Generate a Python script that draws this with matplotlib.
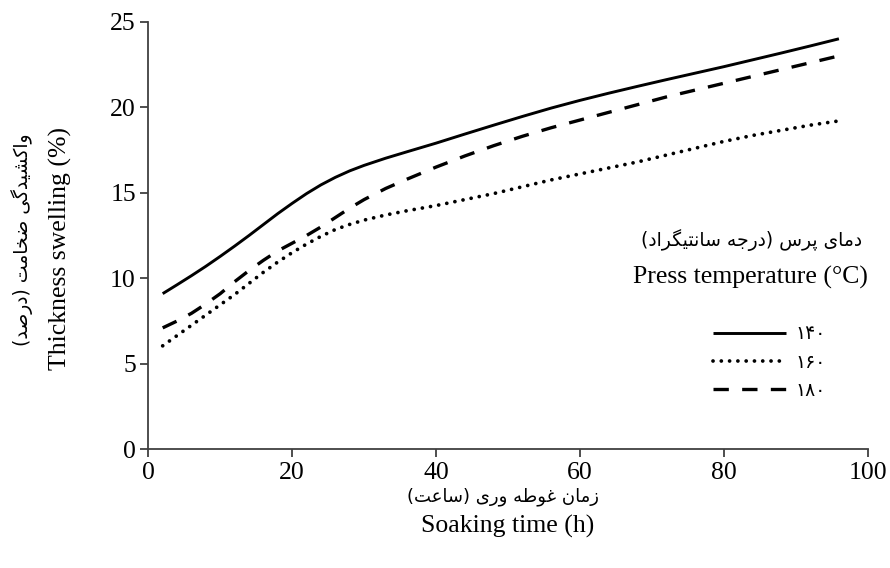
import matplotlib
matplotlib.use("Agg")
import matplotlib.pyplot as plt

# ---------------- data ----------------
soak_time = [2, 4, 6, 8, 10, 12, 14, 16, 18, 20, 22, 24, 26, 28, 30, 33, 36, 40,
             44, 48, 52, 56, 60, 64, 68, 72, 76, 80, 84, 88, 92, 96]
ts_140 = [9.1, 9.62, 10.15, 10.7, 11.28, 11.88, 12.5, 13.14, 13.78, 14.38, 14.95, 15.46,
          15.9, 16.28, 16.6, 17.02, 17.4, 17.9, 18.43, 18.95, 19.46, 19.95, 20.4, 20.82,
          21.22, 21.61, 21.99, 22.37, 22.77, 23.17, 23.58, 24.0]
ts_160 = [6.05, 6.65, 7.25, 7.85, 8.45, 9.05, 9.7, 10.35, 10.95, 11.5, 12.0, 12.45,
          12.85, 13.15, 13.4, 13.7, 13.95, 14.25, 14.6, 14.95, 15.35, 15.75, 16.1, 16.45,
          16.8, 17.2, 17.6, 18.0, 18.35, 18.65, 18.95, 19.2]
ts_180 = [7.1, 7.5, 7.95, 8.5, 9.1, 9.8, 10.45, 11.05, 11.6, 12.05, 12.5, 13.0,
          13.55, 14.1, 14.6, 15.25, 15.8, 16.5, 17.15, 17.75, 18.3, 18.8, 19.25, 19.7,
          20.15, 20.6, 21.0, 21.4, 21.8, 22.2, 22.6, 23.0]
series_labels = ["۱۴۰", "۱۶۰", "۱۸۰"]
x_ticks = [0, 20, 40, 60, 80, 100]
y_ticks = [0, 5, 10, 15, 20, 25]

xlabel_fa = "زمان غوطه وری (ساعت)"
xlabel_en = "Soaking time (h)"
ylabel_fa = "واکشیدگی ضخامت (درصد)"
ylabel_en = "Thickness swelling (%)"
legend_fa = "دمای پرس (درجه سانتیگراد)"
legend_en = "Press temperature (°C)"

# ------------- minimal Persian shaping (matplotlib has no complex text layout) -------------
FORMS = {
    'ا': ('\uFE8D', '\uFE8E', None, None),
    'پ': ('\uFB56', '\uFB57', '\uFB58', '\uFB59'),
    'ت': ('\uFE95', '\uFE96', '\uFE97', '\uFE98'),
    'ج': ('\uFE9D', '\uFE9E', '\uFE9F', '\uFEA0'),
    'خ': ('\uFEA5', '\uFEA6', '\uFEA7', '\uFEA8'),
    'د': ('\uFEA9', '\uFEAA', None, None),
    'ر': ('\uFEAD', '\uFEAE', None, None),
    'ز': ('\uFEAF', '\uFEB0', None, None),
    'س': ('\uFEB1', '\uFEB2', '\uFEB3', '\uFEB4'),
    'ش': ('\uFEB5', '\uFEB6', '\uFEB7', '\uFEB8'),
    'ص': ('\uFEB9', '\uFEBA', '\uFEBB', '\uFEBC'),
    'ض': ('\uFEBD', '\uFEBE', '\uFEBF', '\uFEC0'),
    'ط': ('\uFEC1', '\uFEC2', '\uFEC3', '\uFEC4'),
    'ع': ('\uFEC9', '\uFECA', '\uFECB', '\uFECC'),
    'غ': ('\uFECD', '\uFECE', '\uFECF', '\uFED0'),
    'م': ('\uFEE1', '\uFEE2', '\uFEE3', '\uFEE4'),
    'ن': ('\uFEE5', '\uFEE6', '\uFEE7', '\uFEE8'),
    'ه': ('\uFEE9', '\uFEEA', '\uFEEB', '\uFEEC'),
    'و': ('\uFEED', '\uFEEE', None, None),
    'ک': ('\uFB8E', '\uFB8F', '\uFB90', '\uFB91'),
    'گ': ('\uFB92', '\uFB93', '\uFB94', '\uFB95'),
    'ی': ('\uFBFC', '\uFBFD', '\uFBFE', '\uFBFF'),
}


def shape_fa(text):
    chars = list(text)
    out = []
    for i, c in enumerate(chars):
        if c not in FORMS:
            out.append(c)
            continue
        prev = chars[i - 1] if i > 0 else None
        nxt = chars[i + 1] if i + 1 < len(chars) else None
        iso, fin, ini, med = FORMS[c]
        jp = prev in FORMS and FORMS[prev][2] is not None
        jn = nxt in FORMS and ini is not None
        if jp and jn:
            out.append(med)
        elif jp:
            out.append(fin)
        elif jn:
            out.append(ini)
        else:
            out.append(iso)
    s = ''.join(out)[::-1]
    mirror = {'(': ')', ')': '('}
    return ''.join(mirror.get(c, c) for c in s)


SERIF = ['Liberation Serif', 'DejaVu Serif']
FA = ['DejaVu Sans']

fig = plt.figure(figsize=(8.9, 5.68), dpi=100)
ax = fig.add_axes([148.3 / 890, 1 - 449.3 / 568, (867.7 - 148.3) / 890, (449.3 - 21.7) / 568])

lw = 2.1
l1, = ax.plot(soak_time, ts_140, color='black', lw=lw, solid_capstyle='butt',
              solid_joinstyle='round', label=series_labels[0])
l2, = ax.plot(soak_time, ts_160, color='black', lw=lw + 0.6, linestyle=(0, (0.01, 2.2)),
              dash_capstyle='round', label=series_labels[1])
l3, = ax.plot(soak_time, ts_180, color='black', lw=lw + 0.3, linestyle=(0, (4.6, 4.0)),
              dash_capstyle='butt', label=series_labels[2])

ax.set_xlim(0, 100)
ax.set_ylim(0, 25)
ax.set_xticks(x_ticks)
ax.set_yticks(y_ticks)
ax.spines['top'].set_visible(False)
ax.spines['right'].set_visible(False)
for sp in ('left', 'bottom'):
    ax.spines[sp].set_color('#404040')
    ax.spines[sp].set_linewidth(1.3)
ax.tick_params(direction='out', length=6, width=1.3, color='#404040', pad=3)
for lab in ax.get_xticklabels() + ax.get_yticklabels():
    lab.set_fontfamily(SERIF)
    lab.set_fontsize(18.5)
    lab.set_color('black')

# axis titles
fig.text(503 / 890, 1 - 497 / 568, shape_fa(xlabel_fa), family=FA, fontsize=13,
         ha='center', va='center')
fig.text(508 / 890, 1 - 526 / 568, xlabel_en, family=SERIF, fontsize=18.5,
         ha='center', va='center')
fig.text(22 / 890, 1 - 240 / 568, shape_fa(ylabel_fa), family=FA, fontsize=13.5,
         ha='center', va='center', rotation=90)
fig.text(60 / 890, 1 - 248 / 568, ylabel_en, family=SERIF, fontsize=18.5,
         ha='center', va='center', rotation=90)

# legend titles
fig.text(862 / 890, 1 - 240 / 568, shape_fa(legend_fa), family=FA, fontsize=13.5,
         ha='right', va='center')
fig.text(868 / 890, 1 - 277 / 568, legend_en, family=SERIF, fontsize=18.5,
         ha='right', va='center')

leg = ax.legend(handles=[l1, l2, l3], loc='upper left',
                bbox_to_anchor=(700 / 890, 1 - 311 / 568), bbox_transform=fig.transFigure,
                frameon=False, handlelength=3.9, handletextpad=0.5, labelspacing=0.5,
                prop={'family': FA, 'size': 13.5}, borderpad=0.2)

fig.savefig('out.png', dpi=100)
